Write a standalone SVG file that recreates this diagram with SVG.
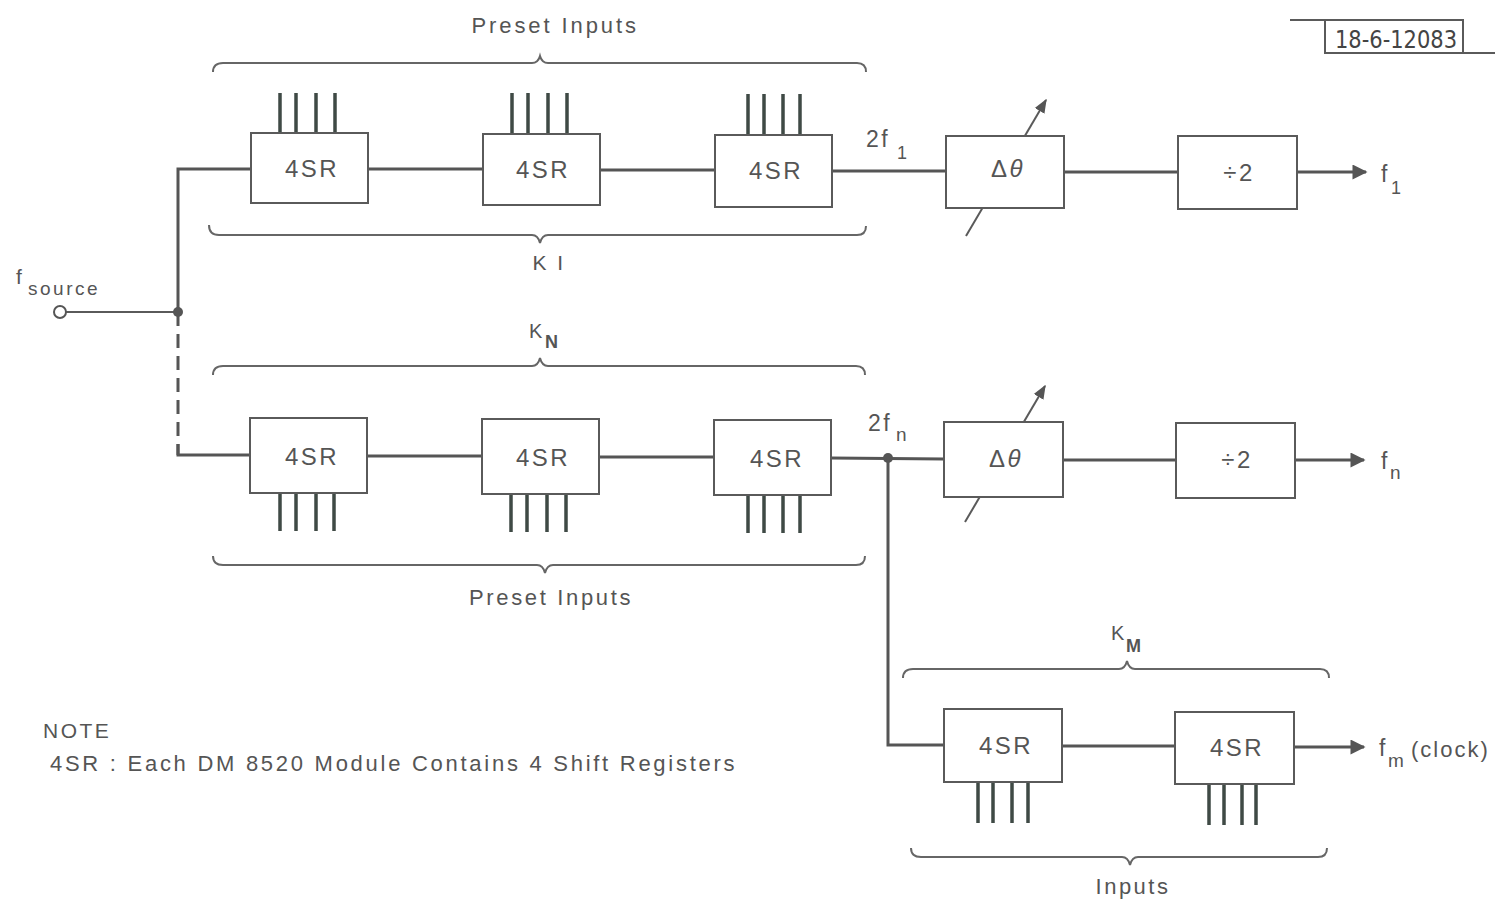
<svg xmlns="http://www.w3.org/2000/svg" width="1506" height="905" viewBox="0 0 1506 905">
<defs>
<style>
.bx{fill:#fff;stroke:#5a5a5a;stroke-width:2}
.ln{fill:none;stroke:#555;stroke-width:3}
.thin{fill:none;stroke:#5a5a5a;stroke-width:2}
.pin{stroke:#3f4a45;stroke-width:3.5}
.br{fill:none;stroke:#666;stroke-width:2}
.t{font-family:"Liberation Sans",Arial,sans-serif;fill:#555;letter-spacing:2.5px}
.bt{font-family:"Liberation Sans",Arial,sans-serif;fill:#555;font-size:24px;letter-spacing:2.5px;text-anchor:middle}
</style>
<marker id="ah" viewBox="0 0 10 10" refX="9" refY="5" markerWidth="7" markerHeight="5" markerUnits="strokeWidth" orient="auto">
<path d="M0,0 L10,5 L0,10 z" fill="#555"/>
</marker>
<marker id="ahs" viewBox="0 0 10 10" refX="9" refY="5" markerWidth="7" markerHeight="7" markerUnits="strokeWidth" orient="auto">
<path d="M0,1 L10,5 L0,9 z" fill="#555"/>
</marker>
</defs>
<rect width="1506" height="905" fill="#fff"/>

<g id="connectors">
<line class="thin" x1="66" y1="312" x2="178" y2="312"/>
<polyline class="ln" points="178,312 178,169 251,169"/>
<polyline class="ln" points="178,312 178,455" stroke-dasharray="14,8"/>
<polyline class="ln" points="178,444 178,455 250,455"/>
<circle cx="178" cy="312" r="5" fill="#555"/>
<line class="ln" x1="368" y1="169" x2="483" y2="169"/>
<line class="ln" x1="600" y1="170" x2="715" y2="170"/>
<line class="ln" x1="832" y1="171" x2="946" y2="171"/>
<line class="ln" x1="1064" y1="172" x2="1178" y2="172"/>
<line class="ln" x1="1297" y1="172" x2="1366" y2="172" marker-end="url(#ah)"/>
<line class="ln" x1="367" y1="456" x2="482" y2="456"/>
<line class="ln" x1="599" y1="457" x2="714" y2="457"/>
<line class="ln" x1="831" y1="458" x2="944" y2="459"/>
<line class="ln" x1="1063" y1="460" x2="1176" y2="460"/>
<line class="ln" x1="1295" y1="460" x2="1364" y2="460" marker-end="url(#ah)"/>
<circle cx="888" cy="458" r="5" fill="#555"/>
<polyline class="ln" points="888,458 888,745 944,745"/>
<line class="ln" x1="1062" y1="746" x2="1175" y2="746"/>
<line class="ln" x1="1294" y1="747" x2="1364" y2="747" marker-end="url(#ah)"/>
<line class="thin" x1="966" y1="236" x2="1046" y2="100" marker-end="url(#ahs)"/>
<line class="thin" x1="965" y1="522" x2="1045" y2="386" marker-end="url(#ahs)"/>
</g>

<circle cx="60" cy="312" r="6" fill="#fff" stroke="#555" stroke-width="2"/>

<g id="pins">
<path class="pin" d="M280,93V133M296,93V133M316,93V133M335,93V133"/>
<path class="pin" d="M512,93V134M528,93V134M548,93V134M567,93V134"/>
<path class="pin" d="M748,94V135M764,94V135M783,94V135M800,94V135"/>
<path class="pin" d="M280,493V531M296,493V531M316,493V531M334,493V531"/>
<path class="pin" d="M511,494V532M527,494V532M547,494V532M566,494V532"/>
<path class="pin" d="M748,495V533M764,495V533M783,495V533M800,495V533"/>
<path class="pin" d="M978,782V823M993,782V823M1012,782V823M1028,782V823"/>
<path class="pin" d="M1209,784V825M1224,784V825M1242,784V825M1256,784V825"/>
</g>

<g id="sr1"><rect class="bx" x="251" y="133" width="117" height="70"/><text class="bt" x="312" y="177">4SR</text></g>
<g id="sr2"><rect class="bx" x="483" y="134" width="117" height="71"/><text class="bt" x="543" y="178">4SR</text></g>
<g id="sr3"><rect class="bx" x="715" y="135" width="117" height="72"/><text class="bt" x="776" y="179">4SR</text></g>
<g id="phase1"><rect class="bx" x="946" y="136" width="118" height="72"/><text class="bt" x="1008" y="177" font-size="25">Δ<tspan font-style="italic">θ</tspan></text></g>
<g id="div1"><rect class="bx" x="1178" y="136" width="119" height="73"/><text class="bt" x="1239" y="181" font-size="25">÷2</text></g>

<g id="sr4"><rect class="bx" x="250" y="418" width="117" height="75"/><text class="bt" x="312" y="465">4SR</text></g>
<g id="sr5"><rect class="bx" x="482" y="419" width="117" height="75"/><text class="bt" x="543" y="466">4SR</text></g>
<g id="sr6"><rect class="bx" x="714" y="420" width="117" height="75"/><text class="bt" x="777" y="467">4SR</text></g>
<g id="phase2"><rect class="bx" x="944" y="422" width="119" height="75"/><text class="bt" x="1006" y="467" font-size="25">Δ<tspan font-style="italic">θ</tspan></text></g>
<g id="div2"><rect class="bx" x="1176" y="423" width="119" height="75"/><text class="bt" x="1237" y="468" font-size="25">÷2</text></g>

<g id="sr7"><rect class="bx" x="944" y="709" width="118" height="73"/><text class="bt" x="1006" y="754">4SR</text></g>
<g id="sr8"><rect class="bx" x="1175" y="712" width="119" height="72"/><text class="bt" x="1237" y="756">4SR</text></g>

<g id="braces">
<path class="br" d="M213,72 Q213,63 223,63 L532,63 Q538,63 540,56 Q542,63 548,63 L857,63 Q866,63 866,72"/>
<path class="br" d="M209,225 Q209,235 219,235 L532,235 Q538,235 540,243 Q542,235 548,235 L857,235 Q866,235 866,226"/>
<path class="br" d="M213,375 Q213,366 223,366 L532,366 Q538,366 540,358 Q542,366 548,366 L856,366 Q865,366 865,375"/>
<path class="br" d="M213,556 Q213,565 223,565 L537,565 Q543,565 545,573 Q547,565 553,565 L856,565 Q865,565 865,556"/>
<path class="br" d="M903,678 Q903,669 913,669 L1119,669 Q1125,669 1127,661 Q1129,669 1135,669 L1320,669 Q1329,669 1329,678"/>
<path class="br" d="M911,848 Q911,857 921,857 L1122,857 Q1128,857 1130,865 Q1132,857 1138,857 L1318,857 Q1327,857 1327,848"/>
</g>

<g id="labels">
<text class="t" x="555" y="33" font-size="22" text-anchor="middle" textLength="167">Preset Inputs</text>
<text class="t" x="549" y="270" font-size="21" text-anchor="middle">K I</text>
<text class="t" x="529" y="338" font-size="20">K<tspan x="545" y="348" font-size="18" font-weight="bold">N</tspan></text>
<text class="t" x="551" y="605" font-size="22" text-anchor="middle" textLength="164">Preset Inputs</text>
<text class="t" x="1111" y="640" font-size="20">K<tspan x="1126" y="652" font-size="18" font-weight="bold">M</tspan></text>
<text class="t" x="1133" y="894" font-size="22" text-anchor="middle">Inputs</text>
<text class="t" x="16" y="284" font-size="21">f<tspan x="28" y="295" font-size="19">source</tspan></text>
<text class="t" x="866" y="147" font-size="23">2f<tspan x="897" y="159" font-size="18">1</tspan></text>
<text class="t" x="868" y="431" font-size="23">2f<tspan x="896" y="441" font-size="19">n</tspan></text>
<text class="t" x="1381" y="182" font-size="23">f<tspan x="1391" y="194" font-size="18">1</tspan></text>
<text class="t" x="1381" y="469" font-size="23">f<tspan x="1390" y="479" font-size="19">n</tspan></text>
<text class="t" x="1379" y="756" font-size="23">f<tspan x="1388" y="767" font-size="19">m</tspan><tspan x="1411" y="757" font-size="22" letter-spacing="2">(clock)</tspan></text>
<text class="t" x="43" y="738" font-size="21">NOTE</text>
<text class="t" x="50" y="771" font-size="22" letter-spacing="1.5" textLength="687" lengthAdjust="spacing">4SR :  Each DM 8520 Module Contains 4 Shift Registers</text>
</g>

<g id="docnum">
<polyline class="thin" points="1290,20 1325,20"/>
<rect class="bx" x="1325" y="20" width="138" height="33"/>
<polyline class="thin" points="1463,53 1495,53"/>
<text x="1396" y="48" font-family="'Liberation Sans Narrow','DejaVu Sans Condensed',sans-serif" font-size="24" fill="#444" text-anchor="middle" textLength="122" lengthAdjust="spacingAndGlyphs">18-6-12083</text>
</g>
</svg>
